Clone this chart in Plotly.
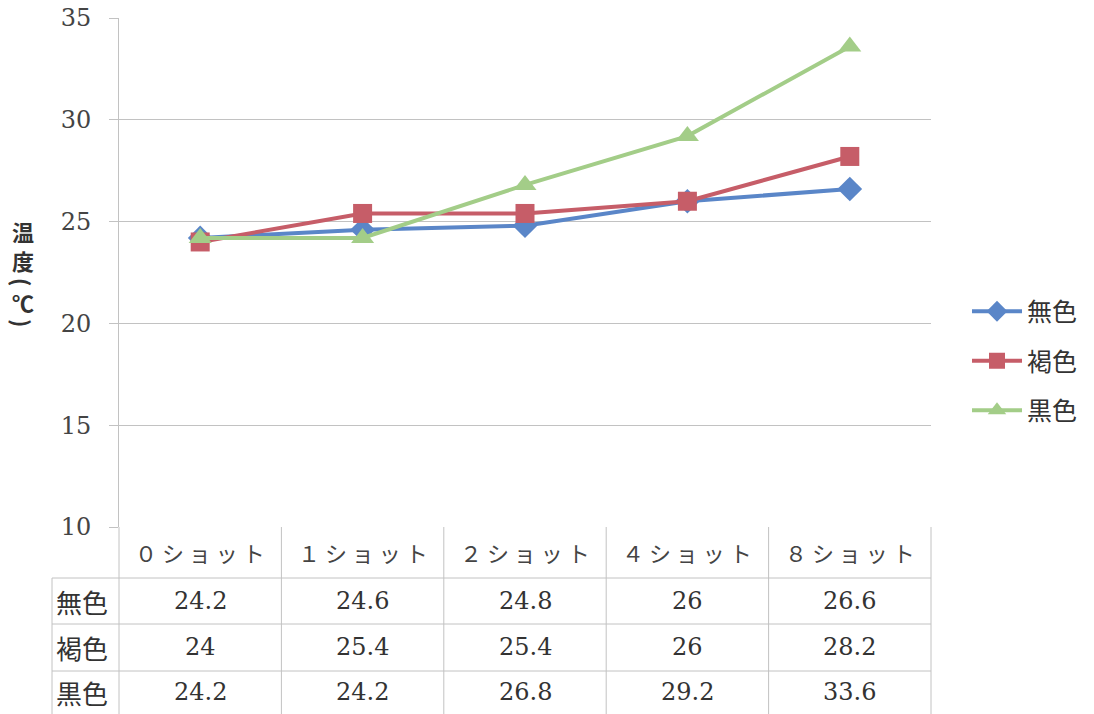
import plotly.graph_objects as go

# ---- data ----
categories = ["０ショット", "１ショット", "２ショット", "４ショット", "８ショット"]
series_names = ["無色", "褐色", "黒色"]
mushoku = [24.2, 24.6, 24.8, 26, 26.6]
kasshoku = [24, 25.4, 25.4, 26, 28.2]
kokushoku = [24.2, 24.2, 26.8, 29.2, 33.6]
y_ticks = [10, 15, 20, 25, 30, 35]
y_title = "温度(℃)"

series_values = [mushoku, kasshoku, kokushoku]
colors = ["#5A86C8", "#C65D68", "#A3CD88"]
symbols = ["diamond", "square", "triangle-up"]
msizes = [19, 19, 20]

SERIF = "DejaVu Serif, Liberation Serif, Noto Sans CJK JP"
SANS = "Noto Sans CJK JP, Noto Sans"
GRID = "#c2c2c2"

fig = go.Figure()
for name, vals, c, s, ms in zip(series_names, series_values, colors, symbols, msizes):
    fig.add_trace(go.Scatter(
        x=categories, y=vals, name=name, mode="lines+markers",
        line=dict(color=c, width=4),
        marker=dict(symbol=s, size=ms, color=c),
        legendgroup=name,
    ))

# page offset (browser body margin) compensation
OFF = 8
xmin, xmax = -0.5, len(categories) - 0.5
W, H = 1094 - OFF, 714 - OFF
L, T = 119 - OFF, 18 - OFF
R = 1094 - 931
B = 714 - 527
plot_w = W - L - R
plot_h = H - T - B

def py_to_paper(py):
    return ((714 - B) - py) / plot_h

def px_to_paper(px):
    return (px - 119) / plot_w

def idx_to_paper(i):
    return (i - xmin) / (xmax - xmin)

row_lines = [578, 624, 671]
table_bottom = py_to_paper(714)
left_edge = px_to_paper(52)

shapes = []
for py in row_lines:
    shapes.append(dict(type="line", xref="paper", yref="paper",
                       x0=left_edge, x1=1, y0=py_to_paper(py), y1=py_to_paper(py),
                       line=dict(color=GRID, width=1)))
for i in range(len(categories) + 1):
    xp = idx_to_paper(i - 0.5)
    shapes.append(dict(type="line", xref="paper", yref="paper",
                       x0=xp, x1=xp, y0=0, y1=table_bottom,
                       line=dict(color=GRID, width=1)))
shapes.append(dict(type="line", xref="paper", yref="paper",
                   x0=left_edge, x1=left_edge, y0=py_to_paper(578), y1=table_bottom,
                   line=dict(color=GRID, width=1)))

annotations = []
header_y = py_to_paper(552)
for c in categories:
    annotations.append(dict(x=c, xref="x", y=header_y, yref="paper",
                            text=" ".join(list(c)), showarrow=False,
                            font=dict(family=SANS, size=22, color="#444"),
                            xanchor="center", yanchor="middle"))
row_centers = [601, 647, 692]
for name, vals, pyc in zip(series_names, series_values, row_centers):
    annotations.append(dict(x=px_to_paper(82), xref="paper", y=py_to_paper(pyc), yref="paper",
                            text=name, showarrow=False,
                            font=dict(family=SANS, size=26, color="#333"),
                            xanchor="center", yanchor="middle"))
    for c, v in zip(categories, vals):
        annotations.append(dict(x=c, xref="x", y=py_to_paper(pyc), yref="paper",
                                text=f"{v:g}", showarrow=False,
                                font=dict(family=SERIF, size=24, color="#333"),
                                xanchor="center", yanchor="middle"))

# vertical y-axis title, one character per line
title_chars = list(y_title)
title_rows = [231, 260, 282, 302, 323]
for ch, pyc in zip(title_chars, title_rows):
    rot = 90 if ch in "()" else 0
    annotations.append(dict(x=px_to_paper(23), xref="paper", y=py_to_paper(pyc), yref="paper",
                            text=ch, showarrow=False, textangle=rot,
                            font=dict(family=SANS, size=22, color="#333", weight="bold"),
                            xanchor="center", yanchor="middle"))

fig.update_layout(
    width=W, height=H,
    margin=dict(l=L, r=R, t=T, b=B, autoexpand=False),
    paper_bgcolor="white", plot_bgcolor="white",
    font=dict(family=SERIF, color="#444"),
    showlegend=True,
    legend=dict(x=px_to_paper(967), xanchor="left", y=py_to_paper(361), yanchor="middle",
                font=dict(family=SANS, size=25, color="#333"),
                itemwidth=50, tracegroupgap=14, traceorder="grouped",
                bgcolor="rgba(0,0,0,0)"),
    xaxis=dict(type="category", range=[xmin, xmax], showticklabels=False,
               showgrid=False, zeroline=False, showline=False, ticks="", automargin=False),
    yaxis=dict(range=[10, 35], tickvals=y_ticks, showgrid=True, gridcolor=GRID, gridwidth=1,
               showline=True, linecolor=GRID, linewidth=1, zeroline=False, automargin=False,
               ticks="outside", ticklen=9, tickcolor=GRID, ticklabelstandoff=13,
               ticklabeloverflow="allow",
               tickfont=dict(family=SERIF, size=24, color="#444")),
    shapes=shapes,
    annotations=annotations,
)

fig.write_html("out.html")
